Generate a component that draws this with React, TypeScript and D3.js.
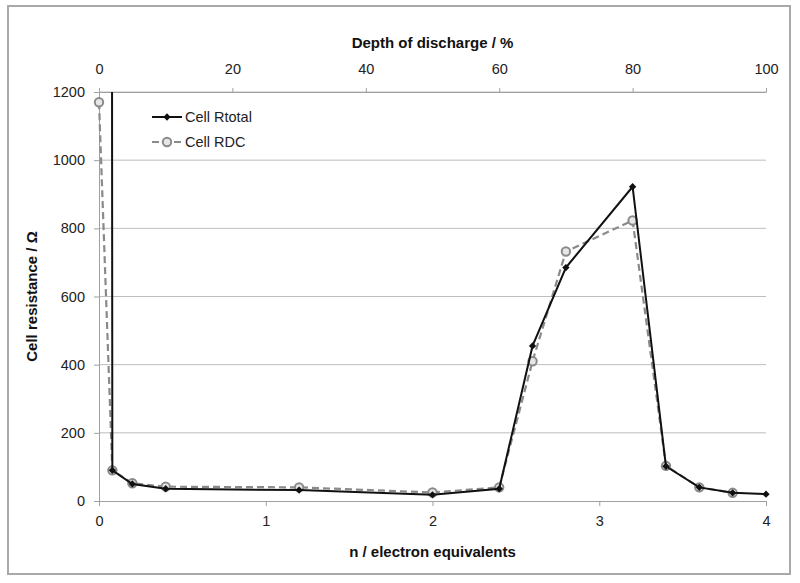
import React, { useRef, useEffect } from "react";
import * as d3 from "d3";

const nRtotal = [0, 0.08, 0.2, 0.4, 1.2, 2.0, 2.4, 2.6, 2.8, 3.2, 3.4, 3.6, 3.8, 4.0];
const rTotal = [50000, 90, 50, 36, 32, 18, 36, 455, 685, 922, 102, 40, 24, 20];
const nRdc = [0, 0.08, 0.2, 0.4, 1.2, 2.0, 2.4, 2.6, 2.8, 3.2, 3.4, 3.6, 3.8];
const rDc = [1170, 90, 52, 42, 40, 25, 40, 410, 732, 823, 103, 40, 24];
const yTicks = [0, 200, 400, 600, 800, 1000, 1200];
const nTicks = [0, 1, 2, 3, 4];
const dodTicks = [0, 20, 40, 60, 80, 100];

const FONT = "'Liberation Sans', Arial, sans-serif";

function App() {
    const svgRef = useRef<SVGSVGElement>(null);

    useEffect(() => {
        const svg = d3.select(svgRef.current);
        svg.selectAll("*").remove();
        const margin = { top: 92, right: 34, bottom: 82, left: 99 };
        const width = 800;
        const height = 583;
        const innerWidth = width - margin.left - margin.right;
        const innerHeight = height - margin.top - margin.bottom;

        const x = d3.scaleLinear().domain([0, 4]).range([0, innerWidth]);
        const xTop = d3.scaleLinear().domain([0, 100]).range([0, innerWidth]);
        const y = d3.scaleLinear().domain([0, 1200]).range([innerHeight, 0]);

        svg.append("rect")
            .attr("x", 8).attr("y", 6)
            .attr("width", 782).attr("height", 568)
            .attr("fill", "white")
            .attr("stroke", "#a9a9a9")
            .attr("stroke-width", 2);

        const g = svg.append("g")
            .attr("transform", `translate(${margin.left},${margin.top})`);

        svg.append("defs").append("clipPath").attr("id", "plotclip")
            .append("rect")
            .attr("x", -8).attr("y", 0)
            .attr("width", innerWidth + 16).attr("height", innerHeight + 8);

        // grid
        g.selectAll("line.grid")
            .data(yTicks.filter((d) => d > 0))
            .enter()
            .append("line")
            .attr("class", "grid")
            .attr("x1", 0).attr("x2", innerWidth)
            .attr("y1", (d) => y(d)).attr("y2", (d) => y(d))
            .attr("stroke", "#bdbdbd").attr("stroke-width", 1);

        const styleAxis = (sel: any) => {
            sel.select(".domain").attr("stroke", "#a0a0a0");
            sel.selectAll(".tick line").attr("stroke", "#a0a0a0");
            sel.selectAll(".tick text")
                .attr("font-family", FONT)
                .attr("font-size", 14.5)
                .attr("fill", "#222");
        };

        g.append("g")
            .attr("transform", `translate(0,${innerHeight})`)
            .call(d3.axisBottom(x).tickValues(nTicks).tickFormat(d3.format("d")).tickSize(5).tickSizeOuter(0).tickPadding(10))
            .call(styleAxis);

        g.append("g")
            .call(d3.axisTop(xTop).tickValues(dodTicks).tickFormat(d3.format("d")).tickSize(4).tickSizeOuter(0).tickPadding(14))
            .call(styleAxis);

        g.append("g")
            .call(d3.axisLeft(y).tickValues(yTicks).tickFormat(d3.format("d")).tickSize(5).tickSizeOuter(0).tickPadding(9))
            .call(styleAxis);

        const plot = g.append("g").attr("clip-path", "url(#plotclip)");

        const rdcData = nRdc.map((n, i) => ({ n, v: rDc[i] }));
        const totData = nRtotal.map((n, i) => ({ n, v: rTotal[i] }));

        const line = d3.line<{ n: number; v: number }>()
            .x((d) => x(d.n))
            .y((d) => y(d.v));

        plot.append("path")
            .datum(rdcData)
            .attr("d", line)
            .attr("fill", "none")
            .attr("stroke", "#8a8a8a")
            .attr("stroke-width", 2.2)
            .attr("stroke-dasharray", "7,4");

        plot.selectAll("circle.rdc")
            .data(rdcData)
            .enter()
            .append("circle")
            .attr("class", "rdc")
            .attr("cx", (d) => x(d.n))
            .attr("cy", (d) => y(d.v))
            .attr("r", 4.2)
            .attr("fill", "#e6e6e6")
            .attr("stroke", "#8a8a8a")
            .attr("stroke-width", 2);

        plot.append("path")
            .datum(totData)
            .attr("d", line)
            .attr("fill", "none")
            .attr("stroke", "#111")
            .attr("stroke-width", 2);

        const diamond = d3.symbol().type(d3.symbolDiamond2).size(34);
        plot.selectAll("path.tot")
            .data(totData.filter((d) => d.v <= 1200))
            .enter()
            .append("path")
            .attr("class", "tot")
            .attr("d", diamond)
            .attr("transform", (d) => `translate(${x(d.n)},${y(d.v)})`)
            .attr("fill", "#111");

        // legend
        const legend = svg.append("g").attr("transform", "translate(152,117)");
        legend.append("line")
            .attr("x1", 0).attr("x2", 30).attr("y1", 0).attr("y2", 0)
            .attr("stroke", "#111").attr("stroke-width", 2);
        legend.append("path")
            .attr("d", diamond)
            .attr("transform", "translate(15,0)")
            .attr("fill", "#111");
        legend.append("text")
            .attr("x", 33).attr("y", 5)
            .attr("font-family", FONT).attr("font-size", 14.5).attr("fill", "#222")
            .text("Cell Rtotal");
        legend.append("line")
            .attr("x1", 0).attr("x2", 30).attr("y1", 25).attr("y2", 25)
            .attr("stroke", "#8a8a8a").attr("stroke-width", 2.2)
            .attr("stroke-dasharray", "7,4");
        legend.append("circle")
            .attr("cx", 15).attr("cy", 25).attr("r", 4.2)
            .attr("fill", "#e6e6e6").attr("stroke", "#8a8a8a").attr("stroke-width", 2);
        legend.append("text")
            .attr("x", 33).attr("y", 30)
            .attr("font-family", FONT).attr("font-size", 14.5).attr("fill", "#222")
            .text("Cell RDC");

        // axis titles
        svg.append("text")
            .attr("x", margin.left + innerWidth / 2)
            .attr("y", 48)
            .attr("text-anchor", "middle")
            .attr("font-family", FONT).attr("font-size", 15).attr("font-weight", "bold")
            .attr("fill", "#111")
            .text("Depth of discharge / %");

        svg.append("text")
            .attr("x", margin.left + innerWidth / 2)
            .attr("y", 557)
            .attr("text-anchor", "middle")
            .attr("font-family", FONT).attr("font-size", 15).attr("font-weight", "bold")
            .attr("fill", "#111")
            .text("n / electron equivalents");

        svg.append("text")
            .attr("transform", `translate(37,${margin.top + innerHeight / 2}) rotate(-90)`)
            .attr("text-anchor", "middle")
            .attr("font-family", FONT).attr("font-size", 15).attr("font-weight", "bold")
            .attr("fill", "#111")
            .text("Cell resistance / Ω");
    }, []);

    return (
        <svg
            ref={svgRef}
            width={800}
            height={583}
            style={{ position: "absolute", left: 0, top: 0, display: "block" }}
        ></svg>
    );
}

export default App;
